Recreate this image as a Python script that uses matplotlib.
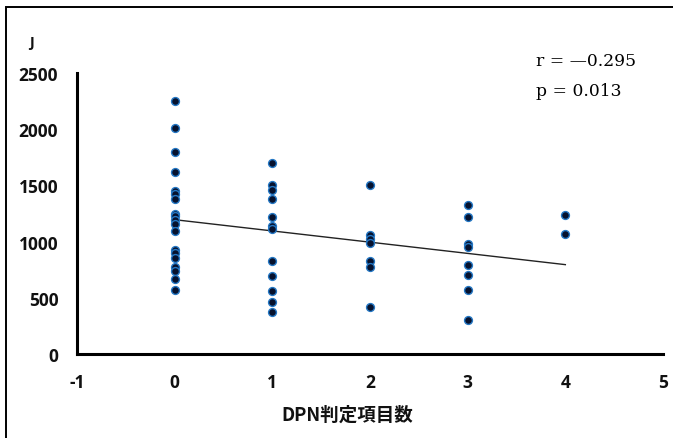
import matplotlib.pyplot as plt
from matplotlib.patches import Rectangle

# values
x0 = [2250, 2010, 1800, 1620, 1450, 1420, 1380, 1250, 1225, 1195, 1155, 1090,
      925, 900, 850, 775, 735, 670, 565]
x1 = [1700, 1500, 1460, 1380, 1220, 1140, 1110, 830, 690, 560, 460, 375]
x2 = [1500, 1060, 1020, 990, 830, 775, 420]
x3 = [1330, 1220, 975, 950, 795, 700, 565, 305]
x4 = [1240, 1070]
groups = [0, 1, 2, 3, 4]
fit_x = [0, 4]
fit_y = [1195, 795]
stats_text = ['r = \u20140.295', 'p = 0.013']

xs, ys = [], []
for g, vals in zip(groups, [x0, x1, x2, x3, x4]):
    xs += [g] * len(vals)
    ys += vals

plt.rcParams['font.family'] = ['Noto Sans CJK JP', 'DejaVu Sans']
plt.rcParams['axes.unicode_minus'] = False

W, H = 673, 439
fig = plt.figure(figsize=(W / 100, H / 100), dpi=100)
ax = fig.add_axes([77 / W, 1 - 355 / H, 586 / W, 281 / H])

# outer frame (right / bottom edges fall off the picture)
fig.patches.append(Rectangle((6 / W, -0.05), 1.0, 1 - 8 / H + 0.05, transform=fig.transFigure,
                             fill=False, edgecolor='black', linewidth=1.4))

ax.plot(fit_x, fit_y, color='#222222', linewidth=1.0, zorder=2)
ax.scatter(xs, ys, s=32, c='#06122e', edgecolors='#2477c4', linewidths=1.0, zorder=3)

ax.set_xlim(-1, 5)
ax.set_ylim(0, 2500)
ax.set_xticks(range(-1, 6))
ax.set_yticks(range(0, 2501, 500))
ax.tick_params(length=0, labelsize=12.5, pad=13.5)
for lab in ax.get_xticklabels() + ax.get_yticklabels():
    lab.set_fontweight('bold')
    lab.set_family(['Open Sans', 'DejaVu Sans'])
    lab.set_color('#111111')

for side in ['top', 'right']:
    ax.spines[side].set_visible(False)
for side in ['left', 'bottom']:
    ax.spines[side].set_linewidth(2.2)

fig.text(347 / W, 1 - 415 / H, 'DPN判定項目数', fontsize=13.3, fontweight='bold',
         color='#111111', ha='center', va='center')
fig.text(32 / W, 1 - 43 / H, 'J', fontsize=10.5, fontweight='bold', color='#111111',
         family=['Open Sans', 'DejaVu Sans'], ha='center', va='center')

for i, t in enumerate(stats_text):
    fig.text(536 / W, 1 - (61 + i * 30) / H, t, fontsize=12.3,
             family=['DejaVu Serif'], ha='left', va='center')

fig.savefig('out.png', dpi=100)
